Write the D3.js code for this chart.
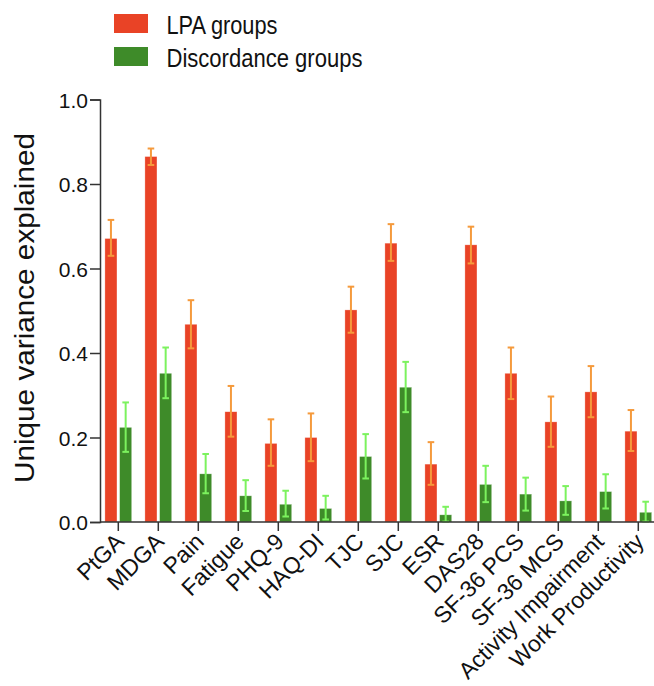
<!DOCTYPE html>
<html>
<head>
<meta charset="utf-8">
<script src="https://cdn.jsdelivr.net/npm/d3@7"></script>
<style>
  html, body { margin: 0; padding: 0; background: #fff; }
  text { font-family: "Liberation Sans", Arial, Helvetica, sans-serif; }
</style>
</head>
<body>
<svg id="chart" width="654" height="686"></svg>
<script>
const categories = ["PtGA","MDGA","Pain","Fatigue","PHQ-9","HAQ-DI","TJC","SJC","ESR","DAS28","SF-36 PCS","SF-36 MCS","Activity Impairment","Work Productivity"];
const seriesNames = ["LPA groups","Discordance groups"];
const lpa      = [0.671,0.865,0.468,0.261,0.186,0.200,0.502,0.660,0.137,0.656,0.352,0.237,0.308,0.215];
const lpaLow   = [0.630,0.845,0.411,0.202,0.133,0.144,0.448,0.618,0.088,0.612,0.291,0.178,0.248,0.168];
const lpaHigh  = [0.715,0.884,0.525,0.322,0.243,0.257,0.557,0.705,0.189,0.699,0.413,0.297,0.369,0.265];
const disc     = [0.224,0.352,0.114,0.062,0.042,0.032,0.155,0.319,0.017,0.089,0.066,0.050,0.072,0.023];
const discLow  = [0.166,0.293,0.068,0.026,0.013,0.006,0.103,0.260,0.001,0.047,0.027,0.017,0.032,0.001];
const discHigh = [0.283,0.413,0.161,0.099,0.074,0.062,0.208,0.379,0.036,0.133,0.105,0.085,0.113,0.048];
const yTicks = [0, 0.2, 0.4, 0.6, 0.8, 1.0];

const barColors = ["#e94326", "#3e8b29"];
const errColors = ["#f59a3c", "#7cf25e"];

const svg = d3.select("#chart");

const x0 = d3.scaleBand().domain(categories).range([98.3, 658.3]).padding(0);
const x1 = d3.scaleBand().domain(seriesNames).range([6.6, 33.4]).paddingInner(0.18);
const y = d3.scaleLinear().domain([0, 1]).range([522, 99.5]);

const rows = categories.map((c, i) => ({
  cat: c,
  vals: [
    {s: seriesNames[0], v: lpa[i], lo: lpaLow[i], hi: lpaHigh[i], k: 0},
    {s: seriesNames[1], v: disc[i], lo: discLow[i], hi: discHigh[i], k: 1}
  ]
}));

const g = svg.append("g");
const groups = g.selectAll("g.cat").data(rows).join("g")
  .attr("class", "cat")
  .attr("transform", d => `translate(${x0(d.cat)},0)`);

groups.selectAll("rect").data(d => d.vals).join("rect")
  .attr("x", d => x1(d.s))
  .attr("y", d => y(d.v))
  .attr("width", x1.bandwidth())
  .attr("height", d => y(0) - y(d.v))
  .attr("fill", d => barColors[d.k])
  .attr("stroke", "#ffffff")
  .attr("stroke-opacity", 0.5)
  .attr("stroke-width", 0.6);

const capW = 3.3;
const eb = groups.selectAll("g.err").data(d => d.vals).join("g").attr("class", "err")
  .attr("stroke", d => errColors[d.k])
  .attr("stroke-width", 2);
eb.append("line")
  .attr("x1", d => x1(d.s) + x1.bandwidth() / 2)
  .attr("x2", d => x1(d.s) + x1.bandwidth() / 2)
  .attr("y1", d => y(d.lo)).attr("y2", d => y(d.hi));
eb.append("line")
  .attr("x1", d => x1(d.s) + x1.bandwidth() / 2 - capW)
  .attr("x2", d => x1(d.s) + x1.bandwidth() / 2 + capW)
  .attr("y1", d => y(d.hi)).attr("y2", d => y(d.hi));
eb.append("line")
  .attr("x1", d => x1(d.s) + x1.bandwidth() / 2 - capW)
  .attr("x2", d => x1(d.s) + x1.bandwidth() / 2 + capW)
  .attr("y1", d => y(d.lo)).attr("y2", d => y(d.lo));

// Y axis
const yAxis = svg.append("g")
  .attr("transform", "translate(100,0)")
  .call(d3.axisLeft(y).tickValues(yTicks).tickFormat(d3.format(".1f")).tickSize(10).tickPadding(2));
yAxis.select(".domain").attr("stroke", "#333").attr("stroke-width", 1.5);
yAxis.selectAll(".tick line").attr("stroke", "#333").attr("stroke-width", 1.5);
yAxis.selectAll(".tick text")
  .attr("font-size", 21)
  .attr("fill", "#111")
  .attr("font-family", "Liberation Sans, Arial, sans-serif")
  .attr("dy", "0.36em");

// X axis
const xAxis = svg.append("g")
  .attr("transform", `translate(0,${y(0)})`)
  .call(d3.axisBottom(x0).tickSize(9).tickSizeOuter(0).tickPadding(2));
xAxis.select(".domain").attr("stroke", "#333").attr("stroke-width", 1.5)
  .attr("d", `M100,0H654`);
xAxis.selectAll(".tick line").attr("stroke", "#333").attr("stroke-width", 1.5);
xAxis.selectAll(".tick text")
  .attr("font-size", 23)
  .attr("fill", "#111")
  .attr("font-family", "Liberation Sans, Arial, sans-serif")
  .attr("text-anchor", "end")
  .attr("x", 0).attr("y", 0).attr("dy", 0)
  .attr("transform", "translate(7,21) rotate(-45)");

// Y title
svg.append("text")
  .attr("transform", "translate(34,308) rotate(-90)")
  .attr("text-anchor", "middle")
  .attr("font-size", 28)
  .attr("fill", "#111")
  .attr("textLength", 350)
  .attr("lengthAdjust", "spacingAndGlyphs")
  .text("Unique variance explained");

// Legend
const legend = svg.append("g");
const legY = [14, 47];
const legLen = [111, 196];
seriesNames.forEach((name, i) => {
  legend.append("rect")
    .attr("x", 114).attr("y", legY[i]).attr("width", 34).attr("height", 19)
    .attr("fill", barColors[i]);
  legend.append("text")
    .attr("x", 166.5).attr("y", legY[i] + 20)
    .attr("font-size", 26)
    .attr("fill", "#111")
    .attr("textLength", legLen[i])
    .attr("lengthAdjust", "spacingAndGlyphs")
    .text(name);
});
</script>
</body>
</html>
